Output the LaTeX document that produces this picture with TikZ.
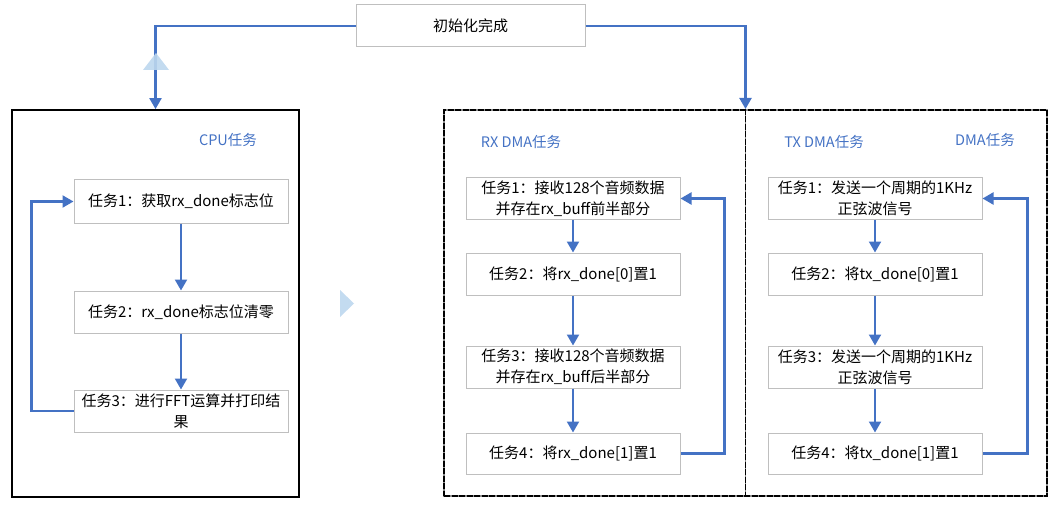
\documentclass[tikz,border=0pt]{standalone}
\usepackage{fontspec}
\setmainfont{Noto Sans CJK SC}
\usetikzlibrary{arrows.meta}
\definecolor{conn}{HTML}{4472C4}
\definecolor{lbl}{HTML}{4472C4}
\definecolor{boxgray}{HTML}{BFBFBF}
\definecolor{tri}{HTML}{BDD7EE}
\tikzset{
  taskbox/.style={draw=boxgray, line width=1pt, fill=white, minimum width=214pt, minimum height=42pt, inner sep=1pt, align=center, font=\fontsize{15}{21}\selectfont},
  topbox/.style={taskbox, minimum width=229pt},
  grouplabel/.style={text=lbl, font=\fontsize{14.5}{18}\selectfont, inner sep=0pt},
  cpubox/.style={draw=black, line width=1.8pt, minimum width=287pt, minimum height=387pt, inner sep=0pt},
  dmabox/.style={draw=black!45, line width=2pt, minimum width=603pt, minimum height=386pt, inner sep=0pt,
    postaction={draw=black, line width=2pt, dash pattern=on 6pt off 1.5pt}},
  divline/.style={draw=black!45, line width=1.8pt, postaction={draw=black, line width=1.8pt, dash pattern=on 6pt off 1.5pt}},
  flow/.style={draw=conn, line width=2.2pt, -{Triangle[width=12pt,length=11pt]}},
  hint/.style={fill=tri, draw=none, opacity=0.9}
}
\begin{document}
\begin{tikzpicture}[x=1pt, y=-1pt]
\useasboundingbox (0,0) rectangle (1059,505);

% containers
\node[cpubox] (cpu) at (155.5,303.5) {};
\node[dmabox] (dma) at (745.5,303) {};
\path[divline] (dma.north) -- (dma.south);

% top node
\node[topbox] (t) at (470.5,26) {初始化完成};

% group labels
\node[grouplabel] (lcpu) at (228,140) {CPU任务};
\node[grouplabel] (lrx) at (521,142) {RX DMA任务};
\node[grouplabel] (ltx) at (824,142) {TX DMA任务};
\node[grouplabel] (ldma) at (985,140) {DMA任务};

% CPU tasks
\node[taskbox, minimum height=43pt] (c1) at (181,201.5) {任务1：获取rx\_done标志位};
\node[taskbox] (c2) at (181,312) {任务2：rx\_done标志位清零};
\node[taskbox] (c3) at (181,411) {任务3：进行FFT运算并打印结\\果};

% RX tasks
\node[taskbox, minimum height=41pt] (r1) at (573,198.5) {任务1：接收128个音频数据\\并存在rx\_buff前半部分};
\node[taskbox] (r2) at (573,274) {任务2：将rx\_done[0]置1};
\node[taskbox] (r3) at (573,367) {任务3：接收128个音频数据\\并存在rx\_buff后半部分};
\node[taskbox, minimum height=41pt] (r4) at (573,453.5) {任务4：将rx\_done[1]置1};

% TX tasks
\node[taskbox, minimum height=41pt] (x1) at (875,198.5) {任务1：发送一个周期的1KHz\\正弦波信号};
\node[taskbox] (x2) at (875,274) {任务2：将tx\_done[0]置1};
\node[taskbox] (x3) at (875,367) {任务3：发送一个周期的1KHz\\正弦波信号};
\node[taskbox, minimum height=41pt] (x4) at (875,453.5) {任务4：将tx\_done[1]置1};

% top connectors
\draw[flow] (t.west) -| (cpu.north);
\draw[flow] (t.east) -| (dma.north);

% CPU flow
\draw[flow] (c1.south) -- (c2.north);
\draw[flow] (c2.south) -- (c3.north);
\draw[flow] (c3.west) -- ++(-42,0) |- (c1.west);

% RX flow
\draw[flow] (r1.south) -- (r2.north);
\draw[flow] (r2.south) -- (r3.north);
\draw[flow] (r3.south) -- (r4.north);
\draw[flow] (r4.east) -- ++(44,0) |- (r1.east);

% TX flow
\draw[flow] (x1.south) -- (x2.north);
\draw[flow] (x2.south) -- (x3.north);
\draw[flow] (x3.south) -- (x4.north);
\draw[flow] (x4.east) -- ++(45,0) |- (x1.east);

% light blue hint triangles
\fill[hint] (143,70) -- (169,70) -- (156,53) -- cycle;
\fill[hint] (340,290) -- (340,317) -- (354,303.5) -- cycle;
\end{tikzpicture}
\end{document}
